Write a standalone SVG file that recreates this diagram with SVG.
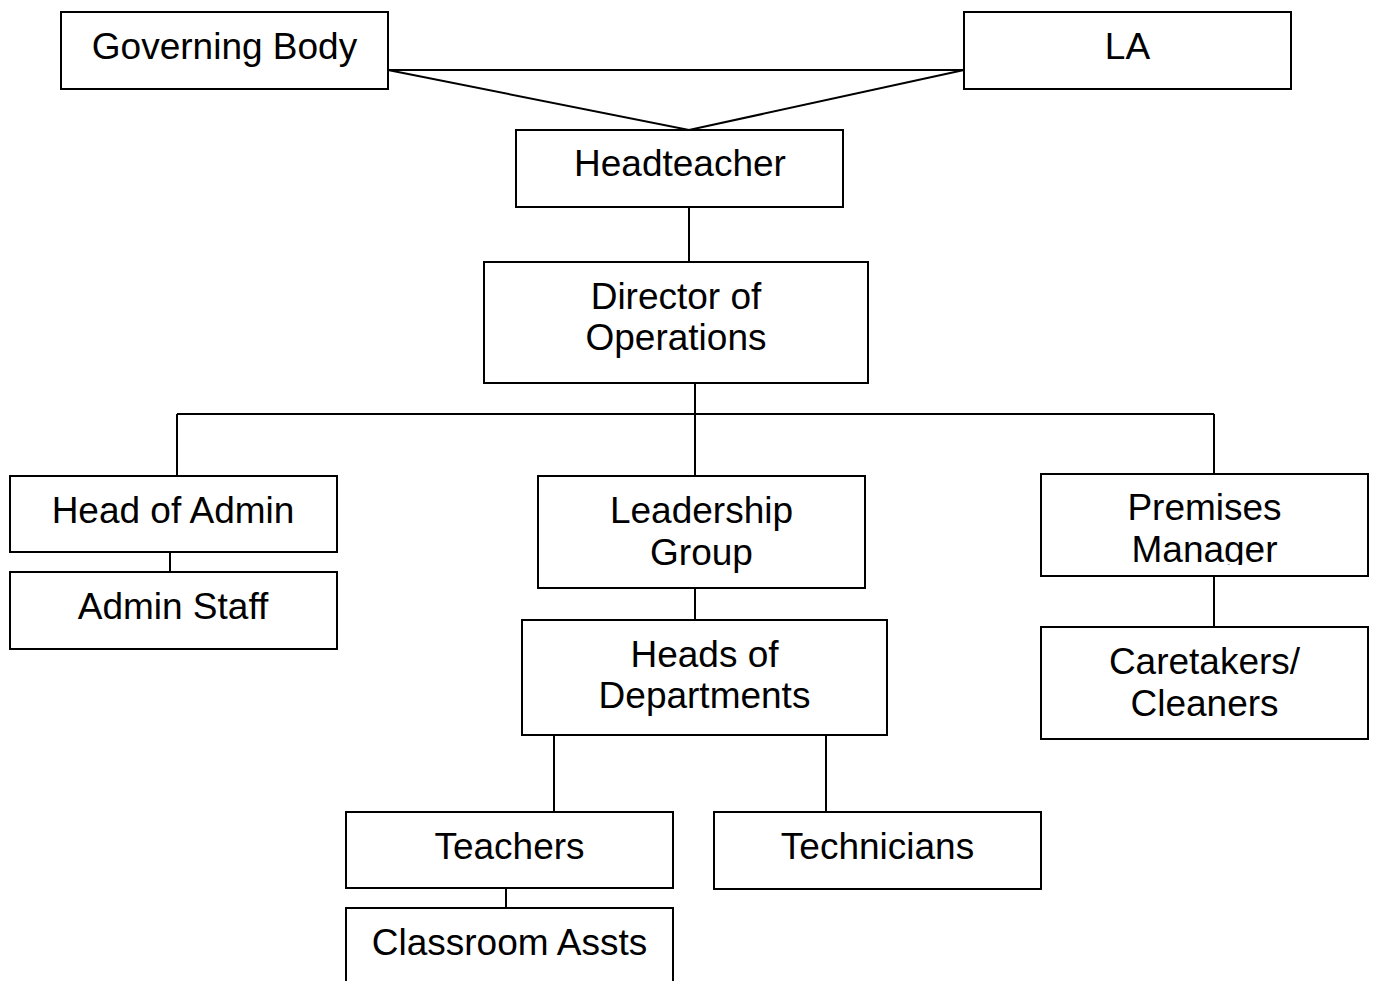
<svg xmlns="http://www.w3.org/2000/svg" width="1375" height="981" viewBox="0 0 1375 981">
<style>
rect.box{fill:#fff;stroke:#000;stroke-width:2}
.c line,.c polyline{stroke:#000;stroke-width:2;fill:none}
text{font-family:"Liberation Sans",Arial,sans-serif;font-size:37px;fill:#000;text-anchor:middle}
</style>
<defs>
<clipPath id="pmclip"><rect x="1041" y="474" width="327" height="91"/></clipPath>
</defs>
<rect width="1375" height="981" fill="#fff"/>
<g class="c" id="connectors">
<line x1="388" y1="70" x2="964" y2="70"/>
<polyline points="388,70 689,130 964,70"/>
<line x1="689" y1="207" x2="689" y2="262"/>
<line x1="695" y1="383" x2="695" y2="476"/>
<line x1="177" y1="414" x2="1214" y2="414"/>
<line x1="177" y1="414" x2="177" y2="476"/>
<line x1="1214" y1="414" x2="1214" y2="474"/>
<line x1="170" y1="552" x2="170" y2="572"/>
<line x1="695" y1="588" x2="695" y2="620"/>
<line x1="554" y1="735" x2="554" y2="812"/>
<line x1="826" y1="735" x2="826" y2="812"/>
<line x1="506" y1="888" x2="506" y2="908"/>
<line x1="1214" y1="576" x2="1214" y2="627"/>
</g>
<g id="governing-body"><rect class="box" x="61" y="12" width="327" height="77"/><text x="224.5" y="59">Governing Body</text></g>
<g id="la"><rect class="box" x="964" y="12" width="327" height="77"/><text x="1127.5" y="59">LA</text></g>
<g id="headteacher"><rect class="box" x="516" y="130" width="327" height="77"/><text x="680" y="176">Headteacher</text></g>
<g id="director"><rect class="box" x="484" y="262" width="384" height="121"/><text x="676" y="309">Director of</text><text x="676" y="350">Operations</text></g>
<g id="head-admin"><rect class="box" x="10" y="476" width="327" height="76"/><text x="173" y="523">Head of Admin</text></g>
<g id="admin-staff"><rect class="box" x="10" y="572" width="327" height="77"/><text x="173" y="619">Admin Staff</text></g>
<g id="leadership"><rect class="box" x="538" y="476" width="327" height="112"/><text x="701.5" y="523">Leadership</text><text x="701.5" y="565">Group</text></g>
<g id="premises"><rect class="box" x="1041" y="474" width="327" height="102"/><text x="1204.5" y="520">Premises</text><text x="1204.5" y="562" clip-path="url(#pmclip)">Manager</text></g>
<g id="heads-dept"><rect class="box" x="522" y="620" width="365" height="115"/><text x="704.5" y="667">Heads of</text><text x="704.5" y="708">Departments</text></g>
<g id="caretakers"><rect class="box" x="1041" y="627" width="327" height="112"/><text x="1204.5" y="674">Caretakers/</text><text x="1204.5" y="716">Cleaners</text></g>
<g id="teachers"><rect class="box" x="346" y="812" width="327" height="76"/><text x="509.5" y="859">Teachers</text></g>
<g id="technicians"><rect class="box" x="714" y="812" width="327" height="77"/><text x="877.5" y="859">Technicians</text></g>
<g id="classroom-assts"><rect class="box" x="346" y="908" width="327" height="100"/><text x="509.5" y="955">Classroom Assts</text></g>
</svg>
